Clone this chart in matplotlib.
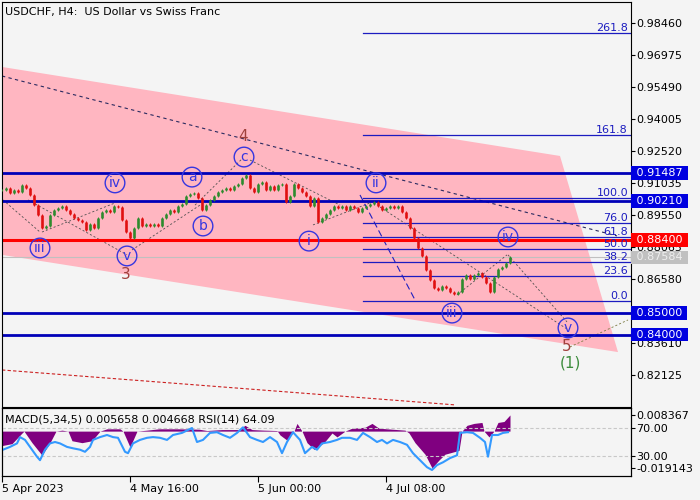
import matplotlib.pyplot as plt
import matplotlib.transforms as mtransforms
import numpy as np

BG = '#f4f4f4'

# closes every 4 H4 bars
closes = [0.9071, 0.9080, 0.9057, 0.9071, 0.9062, 0.9094, 0.9080, 0.9048, 0.9001, 0.8955,
          0.8895, 0.8904, 0.8955, 0.8978, 0.8987, 0.8996, 0.8978, 0.8960, 0.8941, 0.8932,
          0.8923, 0.8886, 0.8914, 0.8895, 0.8941, 0.8969, 0.8978, 0.8969, 0.8996, 0.8992,
          0.8932, 0.8876, 0.8849, 0.8895, 0.8941, 0.8904, 0.8914, 0.8904, 0.8914, 0.8904,
          0.8941, 0.8960, 0.8978, 0.8969, 0.8996, 0.9006, 0.9043, 0.9052, 0.9057, 0.9034,
          0.8978, 0.9001, 0.9025, 0.9043, 0.9062, 0.9071, 0.9080, 0.9071, 0.9089, 0.9099,
          0.9127, 0.9141, 0.9080, 0.9062, 0.9099, 0.9108, 0.9071, 0.9089, 0.9071, 0.9094,
          0.9099, 0.9016, 0.9043, 0.9099, 0.9080, 0.9062, 0.9043, 0.8996, 0.9034, 0.8923,
          0.8941, 0.8960, 0.8978, 0.8996, 0.8987, 0.8996, 0.8978, 0.8996, 0.8987, 0.8969,
          0.8987, 0.8996, 0.9006, 0.9016, 0.8996, 0.8978, 0.8987, 0.8996, 0.8987, 0.8996,
          0.8969, 0.8941, 0.8895, 0.8849, 0.8802, 0.8765, 0.8700, 0.8653, 0.8616, 0.8607,
          0.8625, 0.8616, 0.8598, 0.8588, 0.8598, 0.8658, 0.8677, 0.8658, 0.8677, 0.8686,
          0.8667, 0.8640, 0.8598, 0.8667, 0.8704, 0.8714, 0.8732, 0.8758]
step = 4

# MACD histogram and RSI readings (bar, value)
macd_bar = [0, 10, 20, 22, 30, 40, 48, 54, 60, 66, 70, 80, 90, 98, 105, 118, 121, 128, 135, 145,
            157, 175, 197, 205, 220, 237, 243, 250, 262, 275, 278, 285, 292, 295, 300, 305, 312,
            322, 330, 335, 343, 350, 363, 370, 377, 390, 403, 407, 413, 423, 430, 437, 443, 450,
            457, 460, 465, 472, 480, 482, 487, 492, 496, 502, 508]
macd_val = [-0.0075, -0.0065, -0.001, 0.0, -0.006, -0.0125, -0.006, 0.0, 0.0005, 0.0, -0.005,
            -0.006, -0.005, 0.0, 0.0012, 0.0012, 0.0, -0.0083, 0.0, 0.0005, 0.0012, 0.0012,
            0.0010, 0.0003, 0.0008, 0.0008, 0.003, 0.0008, 0.0005, 0.0003, -0.002, -0.0047, 0.0,
            0.004, 0.0, -0.006, -0.0095, -0.006, -0.001, -0.003, 0.0, 0.0015, 0.002, 0.004,
            0.0015, 0.001, 0.0005, -0.001, -0.006, -0.012, -0.0191, -0.015, -0.012, -0.011,
            -0.010, 0.0, 0.003, 0.004, 0.0045, 0.0, -0.003, 0.0, 0.0045, 0.005, 0.0084]
rsi_bar = [1, 8, 15, 18, 23, 28, 35, 38, 43, 48, 53, 58, 65, 71, 78, 83, 88, 91, 98, 105, 111,
           116, 123, 126, 131, 138, 145, 151, 158, 165, 171, 180, 190, 195, 201, 208, 215, 221,
           228, 235, 241, 248, 255, 261, 268, 275, 280, 285, 291, 298, 303, 310, 315, 320, 328,
           335, 340, 348, 355, 361, 368, 375, 380, 385, 391, 398, 405, 411, 418, 425, 430, 435,
           441, 448, 455, 458, 465, 471, 478, 483, 486, 490, 496, 501, 506]
rsi_val = [39, 43, 48, 57, 53, 43, 29, 24, 39, 48, 50, 48, 43, 41, 39, 36, 43, 53, 57, 60, 57,
           56, 36, 34, 48, 53, 56, 57, 56, 53, 60, 63, 70, 50, 53, 63, 64, 60, 56, 63, 71, 57,
           53, 50, 57, 50, 34, 50, 64, 53, 34, 43, 39, 48, 50, 53, 56, 56, 53, 63, 57, 50, 53,
           48, 53, 50, 46, 34, 24, 14, 10, 17, 21, 27, 31, 63, 64, 63, 56, 50, 29, 60, 60, 63, 64]

# drawing objects
chan_bar = [0, 558, 616, 0]
chan_price = [0.9642, 0.9229, 0.8319, 0.8770]
mid_line = (0, 0.9600, 615, 0.8858)
red_line = (0, 0.8236, 453, 0.8074)
wave_lines = [(1, 0.9025, 38, 0.8876), (40, 0.8876, 113, 0.9011), (26, 0.9025, 125, 0.8770),
              (130, 0.8793, 198, 0.9001), (193, 0.9001, 241, 0.9220), (248, 0.9210, 338, 0.9001),
              (311, 0.8909, 368, 0.9011), (378, 0.8992, 565, 0.8426), (455, 0.8584, 505, 0.8770),
              (506, 0.8770, 565, 0.8459)]
target_line = (568, 0.8343, 626, 0.8468)
fan_line = (358, 0.9048, 413, 0.8561)

blue_levels = [0.91487, 0.90210, 0.85000, 0.84000]
red_level = 0.88400
last_price = 0.87584
fib_levels = [0.0, 23.6, 38.2, 50.0, 61.8, 76.0, 100.0, 161.8, 261.8]
fib_low, fib_high, fib_start = 0.8558, 0.9032, 361

wave_text = ['iii', 'iv', 'v', 'a', 'b', 'c', 'i', 'ii', 'iii', 'iv', 'v']
wave_bar = [38, 113, 125, 190, 201, 242, 307, 374, 450, 506, 566]
wave_price = [0.8802, 0.9104, 0.8765, 0.9131, 0.8904, 0.9224, 0.8834, 0.9104, 0.8500, 0.8853, 0.8431]
big_text = ['3', '4', '5', '(1)']
big_bar = [124, 241, 565, 568]
big_price = [0.8677, 0.9317, 0.8343, 0.8268]
big_color = ['#a0403c', '#a0403c', '#a0403c', '#3c8c3c']

price_ticks = [0.98460, 0.96975, 0.95490, 0.94005, 0.92520, 0.91035, 0.89550, 0.88065,
               0.86580, 0.85095, 0.83610, 0.82125]
hidden_ticks = [0.85095]  # fully covered by the 0.85000 box in the original
date_bars = [0, 128, 256, 384]
date_labels = ['5 Apr 2023', '4 May 16:00', '5 Jun 00:00', '4 Jul 08:00']

fig = plt.figure(figsize=(7, 5), dpi=100, facecolor=BG)
ax = fig.add_axes([2 / 700, 1 - 406.5 / 500, 629 / 700, 404.5 / 500])
ax2 = fig.add_axes([2 / 700, 1 - 476 / 500, 629 / 700, 68 / 500], sharex=ax)
ax.set_facecolor(BG)
ax2.set_facecolor(BG)
ax.set_xlim(0, 629)
ax.set_ylim(0.80665, 0.99434)

ax.fill(chan_bar, chan_price, color='#ffb6c1', lw=0, zorder=0)

def seg(a, line, **kw):
    a.plot([line[0], line[2]], [line[1], line[3]], **kw)

seg(ax, mid_line, color='#2a2a60', lw=0.8, dashes=(3, 3))
seg(ax, red_line, color='#cc2020', lw=0.8, dashes=(3, 2))
for l in wave_lines:
    seg(ax, l, color='#505050', lw=0.6, dashes=(2.5, 2.5))
seg(ax, target_line, color='#7a7a40', lw=0.6, dashes=(2.5, 2.5))
seg(ax, fan_line, color='#2020c0', lw=0.8, dashes=(6, 3))

# horizontal levels
for lv in blue_levels:
    ax.axhline(lv, color='#0000b8', lw=2, zorder=2)
ax.axhline(red_level, color='#ff0000', lw=2.2, zorder=2)
ax.axhline(last_price, color='#c0c0c0', lw=0.8, zorder=1)

for lv in fib_levels:
    p = fib_low + lv / 100 * (fib_high - fib_low)
    ax.plot([fib_start, 629], [p, p], color='#1c1cc0', lw=0.9, zorder=2)
    ax.text(626, p, '%.1f' % lv, color='#1c1cc0', fontsize=8, ha='right', va='bottom', zorder=3)

# candles
closes = np.array(closes)
xs = np.arange(len(closes)) * step
opens = np.r_[closes[0], closes[:-1]]
cols = np.where(closes >= opens, '#2e8b2e', '#e01010')
ax.vlines(xs, opens, closes, colors=cols, lw=1.9, zorder=4)
ax.vlines(xs, np.minimum(opens, closes) - 0.0006, np.maximum(opens, closes) + 0.0006,
          colors=cols, lw=0.7, zorder=4)

# wave marks
ax.scatter(wave_bar, wave_price, s=200, facecolors='none', edgecolors='#3636e0', lw=1, zorder=5)
for t, b, p in zip(wave_text, wave_bar, wave_price):
    ax.text(b, p, t, color='#3636e0', fontsize=10, ha='center', va='center', zorder=6)
for t, b, p, c in zip(big_text, big_bar, big_price, big_color):
    ax.text(b, p, t, color=c, fontsize=11, ha='center', va='center', zorder=6)

ax.yaxis.tick_right()
ax.set_yticks(price_ticks)
ax.set_yticklabels(['' if v in hidden_ticks else '%.5f' % v for v in price_ticks])
ax.tick_params(axis='y', length=3, pad=1, labelsize=8)
ax.tick_params(axis='x', bottom=False, labelbottom=False)

tr = mtransforms.blended_transform_factory(ax.transAxes, ax.transData)
boxes = [(0.91487, '#0000e0', 'white'), (0.90210, '#0000e0', 'white'), (0.88400, '#ff0000', 'white'),
         (0.87584, '#c0c0c0', '#eeeeee'), (0.85000, '#0000e0', 'white'), (0.84000, '#0000e0', 'white')]
for v, fc, tc in boxes:
    ax.text(1.003, v, ' %.5f ' % v, transform=tr, color=tc, fontsize=8, ha='left', va='center',
            bbox=dict(fc=fc, ec='none', pad=1.3), clip_on=False, zorder=10)

fig.text(5 / 700, 1 - 12 / 500, 'USDCHF, H4:  US Dollar vs Swiss Franc', fontsize=8, va='center')

# indicator panel
ax2.set_ylim(1.4, 98.6)
ax2.axhline(70, color='#c8c8c8', lw=0.8, dashes=(3, 2))
ax2.axhline(30, color='#c8c8c8', lw=0.8, dashes=(3, 2))
ax3 = ax2.twinx()
ax3.set_ylim(-0.0233, 0.0120)
ax3.fill_between(macd_bar, 0, macd_val, color='#800080', lw=0)
ax2.set_zorder(ax3.get_zorder() + 1)
ax2.patch.set_visible(False)
ax3.set_facecolor(BG)
ax2.plot(rsi_bar, rsi_val, color='#3399ff', lw=1.5)

ax2.yaxis.tick_right()
ax2.set_yticks([70, 30])
ax2.set_yticklabels(['70.00', '30.00'])
ax3.set_yticks([0.008367, -0.019143])
ax3.set_yticklabels(['0.008367', '-0.019143'])
for a in (ax2, ax3):
    a.tick_params(axis='y', length=3, pad=1, labelsize=8)
ax2.set_xticks(date_bars)
ax2.set_xticklabels(date_labels, ha='left', fontsize=8)
ax2.tick_params(axis='x', length=4, pad=2)
fig.text(5 / 700, 1 - 420 / 500, 'MACD(5,34,5) 0.005658 0.004668 RSI(14) 64.09', fontsize=8, va='center')

fig.savefig('out.png', dpi=100, facecolor=BG)
